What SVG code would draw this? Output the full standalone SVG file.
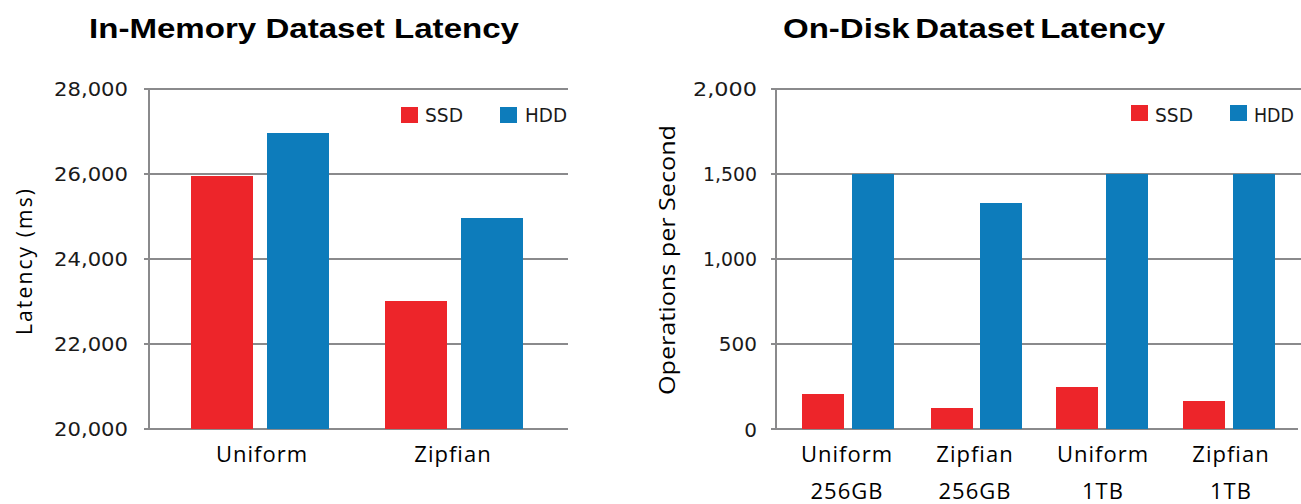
<svg xmlns="http://www.w3.org/2000/svg" width="1301" height="504" viewBox="0 0 1301 504">
<style>
.title{font-family:"Liberation Sans",Arial,sans-serif;font-weight:bold;font-size:28px;fill:#000}
.tick{font-family:"DejaVu Sans",sans-serif;font-size:20px;fill:#1a1a1a;text-anchor:end}
.cat{font-family:"Open Sans",sans-serif;font-size:22px;fill:#000;text-anchor:middle;letter-spacing:1px}
.axt{font-family:"Open Sans",sans-serif;font-size:21px;fill:#000;text-anchor:middle}
.leg{font-family:"DejaVu Sans",sans-serif;font-size:19px;fill:#1a1a1a}
.grid{stroke:#8a8a8c;stroke-width:2;fill:none}
.ssd{fill:#ED252A}
.hdd{fill:#0D7CBB}
</style>
<rect width="1301" height="504" fill="#fff"/>

<g id="left-chart">
  <text class="title" x="304" y="38" text-anchor="middle" textLength="430" lengthAdjust="spacingAndGlyphs">In-Memory Dataset Latency</text>
  <g id="left-grid">
    <path class="grid" d="M144 89H568M144 174H568M144 259H568M144 344H568M144 429H568M149 89V429"/>
  </g>
  <g id="left-ticks">
    <text class="tick" x="128" y="96" textLength="74" lengthAdjust="spacingAndGlyphs">28,000</text>
    <text class="tick" x="128" y="181" textLength="74" lengthAdjust="spacingAndGlyphs">26,000</text>
    <text class="tick" x="128" y="266" textLength="74" lengthAdjust="spacingAndGlyphs">24,000</text>
    <text class="tick" x="128" y="351" textLength="74" lengthAdjust="spacingAndGlyphs">22,000</text>
    <text class="tick" x="128" y="436" textLength="74" lengthAdjust="spacingAndGlyphs">20,000</text>
  </g>
  <text class="axt" transform="translate(32 262) rotate(-90)" textLength="146" lengthAdjust="spacing">Latency (ms)</text>
  <g id="left-bars">
    <rect class="ssd" x="191" y="176" width="62" height="253"/>
    <rect class="hdd" x="267" y="133" width="62" height="296"/>
    <rect class="ssd" x="385" y="301" width="62" height="128"/>
    <rect class="hdd" x="461" y="218" width="62" height="211"/>
  </g>
  <text class="cat" x="262" y="462">Uniform</text>
  <text class="cat" x="453" y="462">Zipfian</text>
  <g id="left-legend">
    <rect class="ssd" x="401" y="107" width="17" height="16"/>
    <text class="leg" x="425" y="122" textLength="38" lengthAdjust="spacingAndGlyphs">SSD</text>
    <rect class="hdd" x="500" y="107" width="17" height="16"/>
    <text class="leg" x="525" y="122" textLength="42" lengthAdjust="spacingAndGlyphs">HDD</text>
  </g>
</g>

<g id="right-chart">
  <text class="title" x="974" y="38" text-anchor="middle" textLength="382" lengthAdjust="spacingAndGlyphs" word-spacing="-3">On-Disk Dataset Latency</text>
  <g id="right-grid">
    <path class="grid" d="M771 89H1301M771 174H1301M771 259H1301M771 344H1301M771 429H1298M776 89V429"/>
  </g>
  <g id="right-ticks">
    <text class="tick" x="757" y="96" textLength="64" lengthAdjust="spacingAndGlyphs">2,000</text>
    <text class="tick" x="757" y="181" textLength="54" lengthAdjust="spacingAndGlyphs">1,500</text>
    <text class="tick" x="757" y="266" textLength="54" lengthAdjust="spacingAndGlyphs">1,000</text>
    <text class="tick" x="757" y="351">500</text>
    <text class="tick" x="757" y="437">0</text>
  </g>
  <text class="axt" transform="translate(675 260) rotate(-90)" textLength="270" lengthAdjust="spacingAndGlyphs">Operations per Second</text>
  <g id="right-bars">
    <rect class="ssd" x="802" y="394" width="42" height="35"/>
    <rect class="hdd" x="852" y="174" width="42" height="255"/>
    <rect class="ssd" x="931" y="408" width="42" height="21"/>
    <rect class="hdd" x="980" y="203" width="42" height="226"/>
    <rect class="ssd" x="1056" y="387" width="42" height="42"/>
    <rect class="hdd" x="1106" y="174" width="42" height="255"/>
    <rect class="ssd" x="1183" y="401" width="42" height="28"/>
    <rect class="hdd" x="1233" y="174" width="42" height="255"/>
  </g>
  <g id="right-cats">
    <text class="cat" x="847" y="462">Uniform</text>
    <text class="cat" x="847" y="499">256GB</text>
    <text class="cat" x="975" y="462">Zipfian</text>
    <text class="cat" x="975" y="499">256GB</text>
    <text class="cat" x="1103" y="462">Uniform</text>
    <text class="cat" x="1103" y="499">1TB</text>
    <text class="cat" x="1231" y="462">Zipfian</text>
    <text class="cat" x="1231" y="499">1TB</text>
  </g>
  <g id="right-legend">
    <rect class="ssd" x="1131" y="105" width="17" height="16"/>
    <text class="leg" x="1155" y="122" textLength="38" lengthAdjust="spacingAndGlyphs">SSD</text>
    <rect class="hdd" x="1230" y="105" width="17" height="16"/>
    <text class="leg" x="1254" y="122" textLength="40" lengthAdjust="spacingAndGlyphs">HDD</text>
  </g>
</g>
</svg>
